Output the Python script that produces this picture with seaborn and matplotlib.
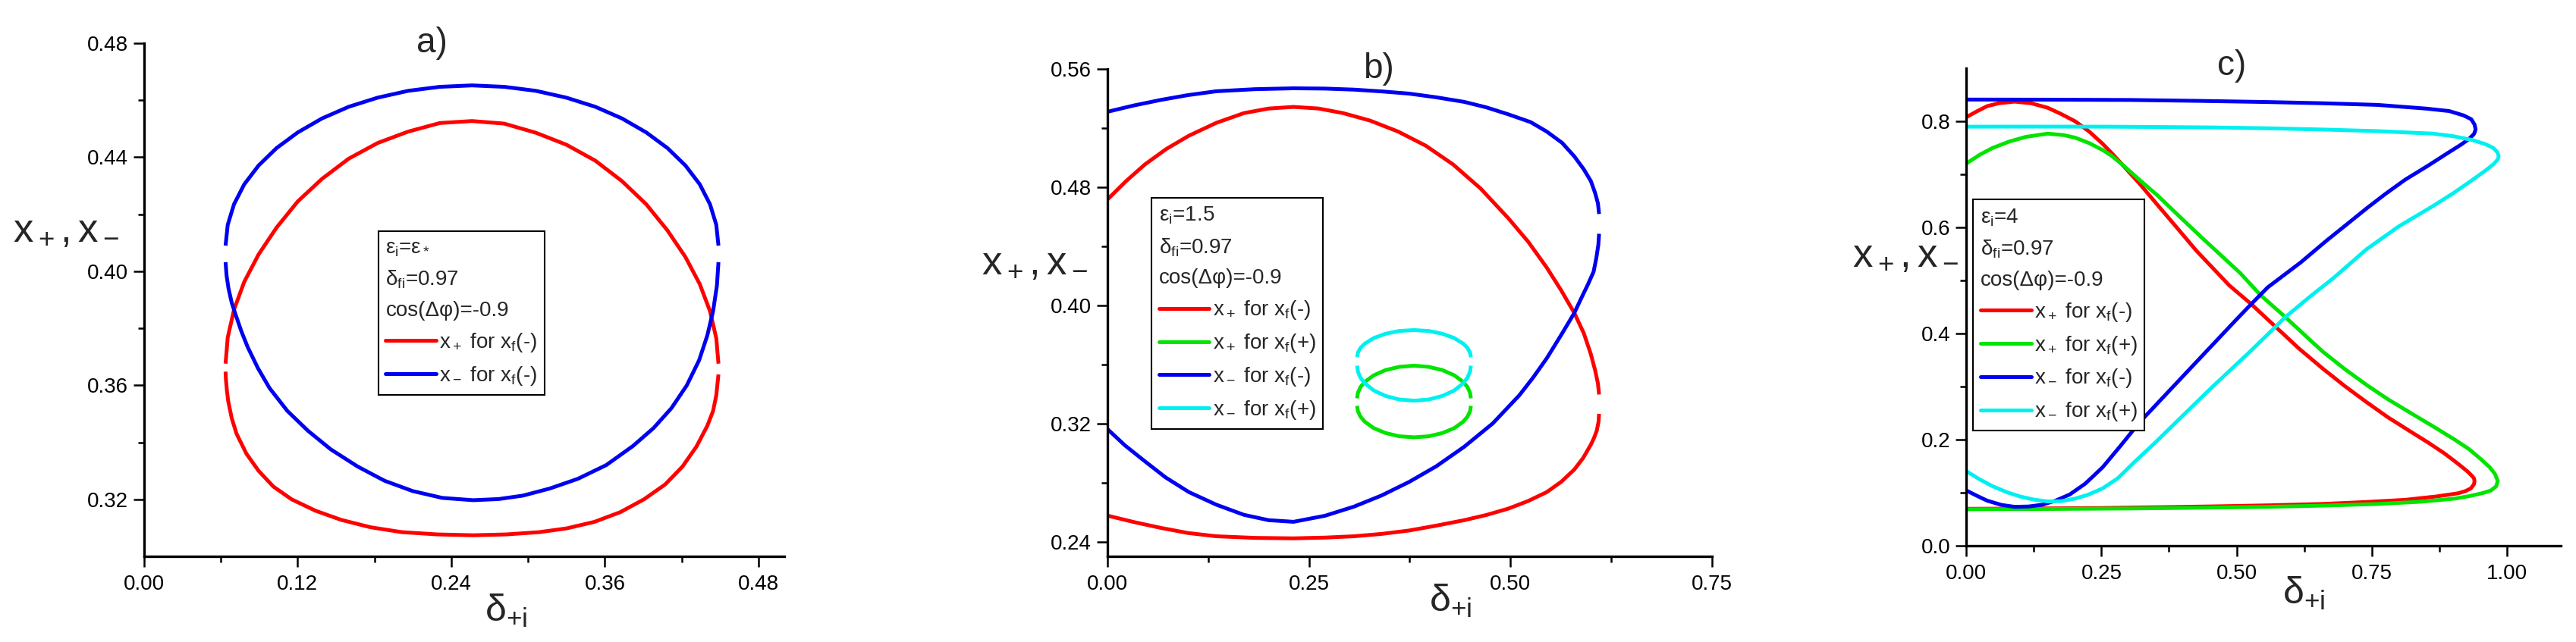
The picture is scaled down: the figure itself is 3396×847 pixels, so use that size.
import matplotlib
matplotlib.use("Agg")
import matplotlib.pyplot as plt
import seaborn as sns
import pandas as pd
from matplotlib.lines import Line2D
from matplotlib.ticker import FixedLocator
from matplotlib import font_manager as fm

# ---------------- DATA ----------------
# Panel a)  (eps_i = eps_*)
A_UP_X = [0.0637, 0.0654, 0.0703, 0.0783, 0.0895, 0.1035, 0.1201, 0.1390, 0.1599, 0.1825, 0.2064, 0.2311, 0.2562,
          0.2813, 0.3060, 0.3299, 0.3525, 0.3734, 0.3923, 0.4089, 0.4229, 0.4341, 0.4421, 0.4470, 0.4487]
A_RED_UP_Y = [0.3676, 0.3768, 0.3865, 0.3963, 0.4059, 0.4153, 0.4245, 0.4324, 0.4395, 0.4450, 0.4490, 0.4520, 0.4527,
              0.4518, 0.4486, 0.4444, 0.4388, 0.4316, 0.4235, 0.4143, 0.4050, 0.3955, 0.3860, 0.3765, 0.3676]
A_BLUE_UP_Y = [0.4090, 0.4163, 0.4235, 0.4305, 0.4371, 0.4432, 0.4487, 0.4536, 0.4577, 0.4609, 0.4633, 0.4647, 0.4652,
               0.4647, 0.4633, 0.4609, 0.4577, 0.4536, 0.4487, 0.4432, 0.4371, 0.4305, 0.4235, 0.4163, 0.4090]
A_RED_LO_X = [0.0637, 0.0640, 0.0648, 0.0658, 0.0685, 0.0723, 0.0800, 0.0895, 0.1010, 0.1153, 0.1340, 0.1540, 0.1770, 0.2013, 0.2290,
              0.2572, 0.2830, 0.3088, 0.3300, 0.3518, 0.3720, 0.3905, 0.4070, 0.4206, 0.4315, 0.4400, 0.4445, 0.4470, 0.4487]
A_RED_LO_Y = [0.3648, 0.3620, 0.3580, 0.3544, 0.3485, 0.3430, 0.3360, 0.3300, 0.3245, 0.3200, 0.3160, 0.3128, 0.3102, 0.3085, 0.3077,
              0.3074, 0.3077, 0.3085, 0.3098, 0.3121, 0.3155, 0.3200, 0.3252, 0.3315, 0.3385, 0.3458, 0.3510, 0.3565, 0.3638]
A_BLUE_LO_X = [0.0637, 0.0645, 0.0660, 0.0685, 0.0714, 0.0760, 0.0809, 0.0890, 0.0981, 0.1120, 0.1282, 0.1460, 0.1669, 0.1880, 0.2099, 0.2330,
               0.2572, 0.2770, 0.2959, 0.3170, 0.3389, 0.3610, 0.3819, 0.3980, 0.4120, 0.4240, 0.4336, 0.4400, 0.4445, 0.4475, 0.4487]
A_BLUE_LO_Y = [0.4032, 0.3985, 0.3940, 0.3890, 0.3850, 0.3790, 0.3735, 0.3660, 0.3590, 0.3510, 0.3440, 0.3375, 0.3315, 0.3265, 0.3229, 0.3205,
               0.3197, 0.3201, 0.3213, 0.3238, 0.3272, 0.3320, 0.3387, 0.3450, 0.3520, 0.3600, 0.3688, 0.3775, 0.3860, 0.3950, 0.4032]

# Panel b)  (eps_i = 1.5)
B_RED_UP_X = [0.0, 0.0230, 0.0464, 0.0730, 0.1011, 0.1350, 0.1694, 0.2000, 0.2309, 0.2620, 0.2923, 0.3260, 0.3606, 0.3950, 0.4289,
              0.4630, 0.4972, 0.5220, 0.5450, 0.5630, 0.5792, 0.5910, 0.5997, 0.6050, 0.6085, 0.6099]
B_RED_UP_Y = [0.4716, 0.4840, 0.4953, 0.5058, 0.5148, 0.5235, 0.5301, 0.5332, 0.5343, 0.5332, 0.5301, 0.5250, 0.5176, 0.5080, 0.4953,
              0.4790, 0.4590, 0.4430, 0.4255, 0.4100, 0.3948, 0.3810, 0.3669, 0.3560, 0.3470, 0.3396]
B_RED_LO_X = [0.6099, 0.6092, 0.6070, 0.6035, 0.5997, 0.5900, 0.5792, 0.5630, 0.5450, 0.5220, 0.4972, 0.4700, 0.4426, 0.4080, 0.3743,
              0.3400, 0.3060, 0.2700, 0.2309, 0.1830, 0.1352, 0.1000, 0.0669, 0.0330, 0.0]
B_RED_LO_Y = [0.3265, 0.3210, 0.3150, 0.3100, 0.3056, 0.2965, 0.2888, 0.2805, 0.2735, 0.2675, 0.2623, 0.2580, 0.2545, 0.2508, 0.2475,
              0.2452, 0.2436, 0.2427, 0.2422, 0.2425, 0.2436, 0.2458, 0.2492, 0.2532, 0.2576]
B_BLUE_UP_X = [0.0, 0.0330, 0.0669, 0.1000, 0.1352, 0.1830, 0.2309, 0.2700, 0.3060, 0.3400, 0.3743, 0.4080, 0.4426, 0.4700, 0.4972,
               0.5250, 0.5450, 0.5640, 0.5792, 0.5910, 0.5997, 0.6050, 0.6085, 0.6099]
B_BLUE_UP_Y = [0.5310, 0.5353, 0.5391, 0.5423, 0.5449, 0.5463, 0.5469, 0.5467, 0.5460, 0.5448, 0.5433, 0.5408, 0.5377, 0.5340, 0.5293,
               0.5240, 0.5176, 0.5100, 0.5008, 0.4920, 0.4841, 0.4760, 0.4690, 0.4618]
B_BLUE_LO_X = [0.6099, 0.6090, 0.6065, 0.6031, 0.5960, 0.5880, 0.5792, 0.5630, 0.5450, 0.5280, 0.5109, 0.4780, 0.4426, 0.4080, 0.3743,
               0.3400, 0.3060, 0.2700, 0.2309, 0.2000, 0.1694, 0.1350, 0.1011, 0.0720, 0.0464, 0.0220, 0.0]
B_BLUE_LO_Y = [0.4484, 0.4410, 0.4320, 0.4227, 0.4140, 0.4050, 0.3948, 0.3800, 0.3641, 0.3510, 0.3390, 0.3200, 0.3042, 0.2910, 0.2804,
               0.2712, 0.2637, 0.2575, 0.2534, 0.2545, 0.2581, 0.2650, 0.2735, 0.2835, 0.2944, 0.3050, 0.3162]
B_LOOP_X = [0.3097, 0.3108, 0.3139, 0.3192, 0.3304, 0.3450, 0.3620, 0.3803, 0.3986, 0.4156, 0.4302, 0.4414, 0.4467, 0.4498, 0.4509]
B_GREEN_UP_Y = [0.3370, 0.3408, 0.3446, 0.3481, 0.3526, 0.3561, 0.3583, 0.3591, 0.3583, 0.3561, 0.3526, 0.3481, 0.3446, 0.3408, 0.3370]
B_GREEN_LO_Y = [0.3319, 0.3282, 0.3246, 0.3212, 0.3168, 0.3135, 0.3113, 0.3106, 0.3113, 0.3135, 0.3168, 0.3212, 0.3246, 0.3282, 0.3319]
B_CYAN_UP_Y = [0.3648, 0.3680, 0.3711, 0.3740, 0.3778, 0.3807, 0.3826, 0.3832, 0.3826, 0.3807, 0.3778, 0.3740, 0.3711, 0.3680, 0.3648]
B_CYAN_LO_Y = [0.3591, 0.3550, 0.3510, 0.3472, 0.3423, 0.3386, 0.3362, 0.3354, 0.3362, 0.3386, 0.3423, 0.3472, 0.3510, 0.3550, 0.3591]

# Panel c)  (eps_i = 4)
C_RED_X = [0.0, 0.0200, 0.0387, 0.0600, 0.0895, 0.1200, 0.1506, 0.1750, 0.2014, 0.2270, 0.2523, 0.2700, 0.2880, 0.3200, 0.3540, 0.3900,
           0.4252, 0.4863, 0.5270, 0.5720, 0.6150, 0.6592, 0.7000, 0.7405, 0.7800, 0.8220, 0.8550, 0.8830, 0.9000, 0.9150, 0.9270,
           0.9350, 0.9390, 0.9400, 0.9390, 0.9330, 0.9230, 0.9100, 0.8700, 0.8118, 0.7400, 0.6592, 0.5600, 0.4557, 0.3500, 0.2523,
           0.1200, 0.0]
C_RED_Y = [0.8077, 0.8190, 0.8286, 0.8340, 0.8371, 0.8340, 0.8255, 0.8140, 0.8000, 0.7810, 0.7575, 0.7390, 0.7190, 0.6830, 0.6420, 0.5990,
           0.5565, 0.4908, 0.4555, 0.4128, 0.3720, 0.3340, 0.3010, 0.2705, 0.2420, 0.2150, 0.1940, 0.1750, 0.1620, 0.1500, 0.1400,
           0.1320, 0.1270, 0.1220, 0.1160, 0.1080, 0.1030, 0.0990, 0.0930, 0.0866, 0.0825, 0.0788, 0.0762, 0.0742, 0.0725, 0.0711,
           0.0702, 0.0696]
C_GREEN_X = [0.0, 0.0250, 0.0488, 0.0800, 0.1099, 0.1506, 0.1800, 0.2014, 0.2270, 0.2523, 0.2700, 0.2880, 0.3200, 0.3540, 0.3950, 0.4354,
             0.5066, 0.5440, 0.5890, 0.6250, 0.6592, 0.7000, 0.7405, 0.7800, 0.8223, 0.8650, 0.9034, 0.9300, 0.9520, 0.9680, 0.9780,
             0.9830, 0.9800, 0.9700, 0.9540, 0.9300, 0.9034, 0.8400, 0.7609, 0.6600, 0.5575, 0.4300, 0.3032, 0.1500, 0.0]
C_GREEN_Y = [0.7204, 0.7370, 0.7498, 0.7620, 0.7706, 0.7768, 0.7740, 0.7691, 0.7590, 0.7459, 0.7340, 0.7190, 0.6900, 0.6600, 0.6200, 0.5810,
             0.5140, 0.4726, 0.4320, 0.3980, 0.3660, 0.3330, 0.3030, 0.2760, 0.2500, 0.2240, 0.2000, 0.1820, 0.1630, 0.1480, 0.1350,
             0.1220, 0.1120, 0.1040, 0.0990, 0.0935, 0.0889, 0.0830, 0.0788, 0.0757, 0.0734, 0.0717, 0.0703, 0.0694, 0.0688]
C_BLUE_X = [0.0, 0.0200, 0.0387, 0.0650, 0.0895, 0.1150, 0.1404, 0.1650, 0.1913, 0.2200, 0.2523, 0.2850, 0.3200, 0.3744, 0.4354, 0.4964,
            0.5270, 0.5575, 0.6185, 0.6650, 0.7101, 0.7405, 0.7750, 0.8118, 0.8550, 0.8932, 0.9150, 0.9288, 0.9390, 0.9420, 0.9400,
            0.9339, 0.9200, 0.8932, 0.8500, 0.7609, 0.6600, 0.5575, 0.4300, 0.3032, 0.1500, 0.0]
C_BLUE_Y = [0.1043, 0.0940, 0.0850, 0.0770, 0.0734, 0.0740, 0.0773, 0.0850, 0.0966, 0.1170, 0.1480, 0.1880, 0.2320, 0.2910, 0.3570, 0.4230,
            0.4555, 0.4870, 0.5340, 0.5740, 0.6110, 0.6360, 0.6630, 0.6900, 0.7170, 0.7420, 0.7560, 0.7660, 0.7760, 0.7845, 0.7940,
            0.8039, 0.8110, 0.8193, 0.8240, 0.8309, 0.8340, 0.8363, 0.8385, 0.8402, 0.8408, 0.8410]
C_CYAN_X = [0.0, 0.0250, 0.0488, 0.0750, 0.0997, 0.1250, 0.1506, 0.1750, 0.2014, 0.2250, 0.2523, 0.2800, 0.3133, 0.3500, 0.3857, 0.4557,
            0.5270, 0.5720, 0.5890, 0.6350, 0.6796, 0.7405, 0.8000, 0.8627, 0.9000, 0.9339, 0.9600, 0.9746, 0.9830, 0.9847, 0.9820,
            0.9746, 0.9600, 0.9339, 0.9000, 0.8627, 0.7600, 0.6592, 0.5600, 0.4557, 0.3500, 0.2523, 0.1200, 0.0]
C_CYAN_Y = [0.1407, 0.1250, 0.1121, 0.1010, 0.0928, 0.0870, 0.0835, 0.0840, 0.0889, 0.0960, 0.1082, 0.1270, 0.1600, 0.1950, 0.2306, 0.3000,
            0.3680, 0.4128, 0.4300, 0.4690, 0.5050, 0.5590, 0.6020, 0.6400, 0.6640, 0.6879, 0.7070, 0.7188, 0.7280, 0.7343, 0.7420,
            0.7498, 0.7570, 0.7652, 0.7720, 0.7768, 0.7815, 0.7845, 0.7868, 0.7884, 0.7893, 0.7899, 0.7900, 0.7899]

# ticks
A_XTICKS = [0.00, 0.12, 0.24, 0.36, 0.48]
A_XTICKLABELS = ["0.00", "0.12", "0.24", "0.36", "0.48"]
A_XMINOR = [0.06, 0.18, 0.30, 0.42]
A_YTICKS = [0.32, 0.36, 0.40, 0.44, 0.48]
A_YTICKLABELS = ["0.32", "0.36", "0.40", "0.44", "0.48"]
A_YMINOR = [0.34, 0.38, 0.42, 0.46]
B_XTICKS = [0.00, 0.25, 0.50, 0.75]
B_XTICKLABELS = ["0.00", "0.25", "0.50", "0.75"]
B_XMINOR = [0.125, 0.375, 0.625]
B_YTICKS = [0.24, 0.32, 0.40, 0.48, 0.56]
B_YTICKLABELS = ["0.24", "0.32", "0.40", "0.48", "0.56"]
B_YMINOR = [0.28, 0.36, 0.44, 0.52]
C_XTICKS = [0.00, 0.25, 0.50, 0.75, 1.00]
C_XTICKLABELS = ["0.00", "0.25", "0.50", "0.75", "1.00"]
C_XMINOR = [0.125, 0.375, 0.625, 0.875]
C_YTICKS = [0.0, 0.2, 0.4, 0.6, 0.8]
C_YTICKLABELS = ["0.0", "0.2", "0.4", "0.6", "0.8"]
C_YMINOR = [0.1, 0.3, 0.5, 0.7]

RED, GREEN, BLUE, CYAN = "#FF0000", "#00E400", "#0000F0", "#00F0F0"
LAB_XP_M = r"$\mathregular{x_+}$ for $\mathregular{x_f}$(-)"
LAB_XP_P = r"$\mathregular{x_+}$ for $\mathregular{x_f}$(+)"
LAB_XM_M = r"$\mathregular{x_-}$ for $\mathregular{x_f}$(-)"
LAB_XM_P = r"$\mathregular{x_-}$ for $\mathregular{x_f}$(+)"

# ---------------- STYLE ----------------
sns.set_theme(style="ticks")
names = {f.name for f in fm.fontManager.ttflist}
BASE = "Liberation Sans Narrow" if "Liberation Sans Narrow" in names else "Liberation Sans"
plt.rcParams["font.family"] = [BASE, "DejaVu Sans"]
plt.rcParams["mathtext.fontset"] = "custom"
plt.rcParams["mathtext.rm"] = BASE
plt.rcParams["mathtext.it"] = BASE
plt.rcParams["mathtext.bf"] = BASE
plt.rcParams["axes.unicode_minus"] = False

LW = 3.6
TICK_FS = 20
LEG_FS = 20
fig = plt.figure(figsize=(33.96, 8.47), dpi=100)
fig.patch.set_facecolor("white")

axA = fig.add_axes([0.0559, 0.1334, 0.2485, 0.7993])
axB = fig.add_axes([0.4299, 0.1334, 0.2347, 0.7592])
axC = fig.add_axes([0.7633, 0.1499, 0.2309, 0.7438])


def curve(ax, xs, ys, color):
    df = pd.DataFrame({"x": xs, "y": ys})
    sns.lineplot(data=df, x="x", y="y", sort=False, estimator=None, color=color,
                 lw=LW, ax=ax, legend=False, solid_capstyle="butt",
                 solid_joinstyle="round")


def style_axes(ax, xlim, ylim, xt, xtl, xm, yt, ytl, ym, title, title_pos,
               ylab_pos, xlab_pos):
    ax.set_xlim(*xlim)
    ax.set_ylim(*ylim)
    for s in ["top", "right"]:
        ax.spines[s].set_visible(False)
    for s in ["left", "bottom"]:
        ax.spines[s].set_linewidth(2.4)
        ax.spines[s].set_color("black")
    ax.set_xticks(xt)
    ax.set_xticklabels(xtl)
    ax.set_yticks(yt)
    ax.set_yticklabels(ytl)
    ax.xaxis.set_minor_locator(FixedLocator(xm))
    ax.yaxis.set_minor_locator(FixedLocator(ym))
    ax.tick_params(which="major", direction="out", length=10, width=1.8,
                   labelsize=TICK_FS, color="black", labelcolor="black")
    ax.tick_params(axis="x", which="major", pad=7)
    ax.tick_params(axis="y", which="major", pad=5)
    ax.tick_params(which="minor", direction="out", length=6, width=1.8, color="black")
    ax.set_xlabel(r"$\mathregular{δ_{+i}}$", fontsize=36)
    ax.xaxis.set_label_coords(*xlab_pos)
    ax.set_ylabel(r"$\mathregular{x_+, x_-}$", fontsize=38, rotation=0,
                  ha="center", va="center")
    ax.yaxis.set_label_coords(*ylab_pos)
    ax.xaxis.label.set_va("center")
    ax.text(title_pos[0], title_pos[1], title, transform=ax.transAxes,
            fontsize=33, ha="center", va="center")
    ax.set_facecolor("white")


def make_legend(ax, texts, entries, anchor):
    handles = [Line2D([], [], linestyle="none") for _ in texts]
    handles += [Line2D([], [], color=c, lw=LW) for c, _ in entries]
    labels = list(texts) + [l for _, l in entries]
    leg = ax.legend(handles, labels, loc="upper left", bbox_to_anchor=anchor,
                    bbox_transform=ax.transAxes, borderaxespad=0, frameon=True,
                    fancybox=False, edgecolor="black", framealpha=1,
                    handlelength=2.4, handletextpad=0.15, labelspacing=0.5,
                    borderpad=0.35, fontsize=LEG_FS)
    leg.get_frame().set_linewidth(1.5)
    try:
        for col in leg._legend_handle_box.get_children():
            for hp in col.get_children()[:len(texts)]:
                da = hp.get_children()[0]
                da.width = 0
                hp.sep = 0
    except Exception:
        pass
    return leg


# ---- panel a
curve(axA, A_UP_X, A_RED_UP_Y, RED)
curve(axA, A_RED_LO_X, A_RED_LO_Y, RED)
curve(axA, A_UP_X, A_BLUE_UP_Y, BLUE)
curve(axA, A_BLUE_LO_X, A_BLUE_LO_Y, BLUE)
style_axes(axA, (0, 0.5), (0.30, 0.48), A_XTICKS, A_XTICKLABELS, A_XMINOR,
           A_YTICKS, A_YTICKLABELS, A_YMINOR, "a)", (0.45, 1.0),
           (-0.122, 0.635), (0.566, -0.106))
make_legend(axA, [r"$\mathregular{ε_i}$=$\mathregular{ε_*}$",
                  r"$\mathregular{δ_{fi}}$=0.97", "cos(Δφ)=-0.9"],
            [(RED, LAB_XP_M), (BLUE, LAB_XM_M)], (0.366, 0.634))

# ---- panel b
curve(axB, B_RED_UP_X, B_RED_UP_Y, RED)
curve(axB, B_RED_LO_X, B_RED_LO_Y, RED)
curve(axB, B_LOOP_X, B_GREEN_UP_Y, GREEN)
curve(axB, B_LOOP_X, B_GREEN_LO_Y, GREEN)
curve(axB, B_BLUE_UP_X, B_BLUE_UP_Y, BLUE)
curve(axB, B_BLUE_LO_X, B_BLUE_LO_Y, BLUE)
curve(axB, B_LOOP_X, B_CYAN_UP_Y, CYAN)
curve(axB, B_LOOP_X, B_CYAN_LO_Y, CYAN)
style_axes(axB, (0, 0.75), (0.23, 0.56), B_XTICKS, B_XTICKLABELS, B_XMINOR,
           B_YTICKS, B_YTICKLABELS, B_YMINOR, "b)", (0.449, 1.0),
           (-0.120, 0.602), (0.567, -0.092))
make_legend(axB, [r"$\mathregular{ε_i}$=1.5", r"$\mathregular{δ_{fi}}$=0.97", "cos(Δφ)=-0.9"],
            [(RED, LAB_XP_M), (GREEN, LAB_XP_P), (BLUE, LAB_XM_M), (CYAN, LAB_XM_P)],
            (0.0728, 0.7356))

# ---- panel c
curve(axC, C_RED_X, C_RED_Y, RED)
curve(axC, C_GREEN_X, C_GREEN_Y, GREEN)
curve(axC, C_BLUE_X, C_BLUE_Y, BLUE)
curve(axC, C_CYAN_X, C_CYAN_Y, CYAN)
style_axes(axC, (0, 1.1), (0.0, 0.9), C_XTICKS, C_XTICKLABELS, C_XMINOR,
           C_YTICKS, C_YTICKLABELS, C_YMINOR, "c)", (0.446, 1.005),
           (-0.102, 0.608), (0.568, -0.10))
make_legend(axC, [r"$\mathregular{ε_i}$=4", r"$\mathregular{δ_{fi}}$=0.97", "cos(Δφ)=-0.9"],
            [(RED, LAB_XP_M), (GREEN, LAB_XP_P), (BLUE, LAB_XM_M), (CYAN, LAB_XM_P)],
            (0.0115, 0.725))

fig.savefig("out.png", dpi=100, facecolor="white")
